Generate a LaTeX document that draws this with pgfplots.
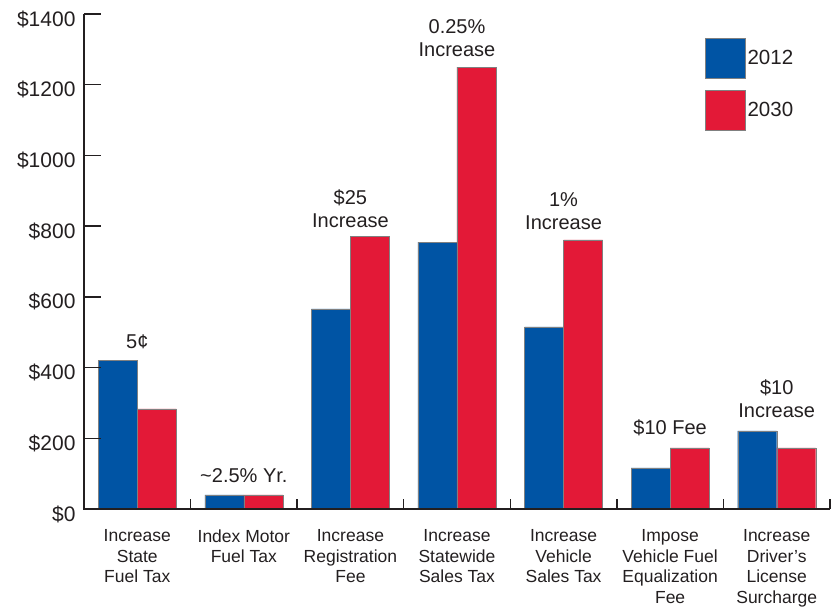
\documentclass[border=0pt]{standalone}
\usepackage{fontspec}
\setmainfont{Liberation Sans}
\usepackage{pgfplots}
\pgfplotsset{compat=1.18}
\definecolor{bblue}{RGB}{0,84,164}
\definecolor{rred}{RGB}{227,25,55}
\definecolor{txt}{RGB}{35,31,32}
\pgfplotsset{sqlegend/.style={legend image code/.code={\draw[##1] (0pt,-20pt) rectangle (40pt,20pt);}}}
\begin{document}
\begin{tikzpicture}
\path[use as bounding box] (-84pt,-100pt) rectangle (749pt,509pt);
\begin{axis}[
  at={(0,0)}, anchor=south west,
  scale only axis, width=746pt, height=495pt,
  xmin=-0.5, xmax=6.5, ymin=0, ymax=1400,
  axis line style={draw=none},
  ybar=0pt, bar width=39pt,
  clip=false,
  xtick={0,...,6},
  xticklabels={Increase\\State\\Fuel Tax, Index Motor\\Fuel Tax, Increase\\Registration\\Fee, Increase\\Statewide\\Sales Tax, Increase\\Vehicle\\Sales Tax, Impose\\Vehicle Fuel\\Equalization\\Fee, Increase\\Driver’s\\License\\Surcharge},
  minor xtick={0.5,1.5,...,6.5},
  xtick pos=left, ytick pos=left,
  tick align=inside,
  major x tick style={draw=none},
  minor x tick style={draw=txt, line width=1.3pt},
  y tick style={draw=none},
  minor tick length=10pt,
  major tick length=15pt,
  ytick={0,200,...,1400},
  yticklabels={\$0,\$200,\$400,\$600,\$800,\$1000,\$1200,\$1400},
  xticklabel style={align=center, font=\fontsize{17.5}{20.7}\selectfont, text=txt, yshift=-17pt},
  yticklabel style={font=\fontsize{21}{24}\selectfont, text=txt, yshift=-5pt, xshift=-5pt},
  legend style={draw=none, fill=none, at={(0.8324,0.9515)}, anchor=north west,
    font=\fontsize{20.5}{24}\selectfont, text=txt, row sep=11pt, inner sep=0pt,
    /tikz/every even column/.append style={column sep=13pt}},
  legend cell align=left,
]
\addplot[fill=bblue, draw=black!50, line width=0.4pt, sqlegend]
  coordinates {(0,421) (1,40) (2,566) (3,755) (4,515) (5,116) (6,221)};
\addplot[fill=rred, draw=black!50, line width=0.4pt, sqlegend]
  coordinates {(0,283) (1,40) (2,772) (3,1250) (4,761) (5,173) (6,173)};
\legend{2012,2030}
\pgfplotsinvokeforeach{200,400,600,800,1000,1200,1400}{
  \draw[txt, line width=1.5pt] (axis cs:-0.5,#1) -- ++(17pt,0pt);
}
\draw[txt, line width=1.3pt] (rel axis cs:0,1) -- (rel axis cs:0,0) -- (rel axis cs:1,0);
\begin{scope}[every node/.style={font=\fontsize{20}{23}\selectfont, align=center, text=txt}]
\node at (axis cs:0,472) {5¢};
\node at (axis cs:1,93) {\textasciitilde 2.5\% Yr.};
\node at (axis cs:2,850) {\$25\\Increase};
\node at (axis cs:3,1331) {0.25\%\\Increase};
\node at (axis cs:4,842) {1\%\\Increase};
\node at (axis cs:5,229) {\$10 Fee};
\node at (axis cs:6,311) {\$10\\Increase};
\end{scope}
\end{axis}
\end{tikzpicture}
\end{document}
